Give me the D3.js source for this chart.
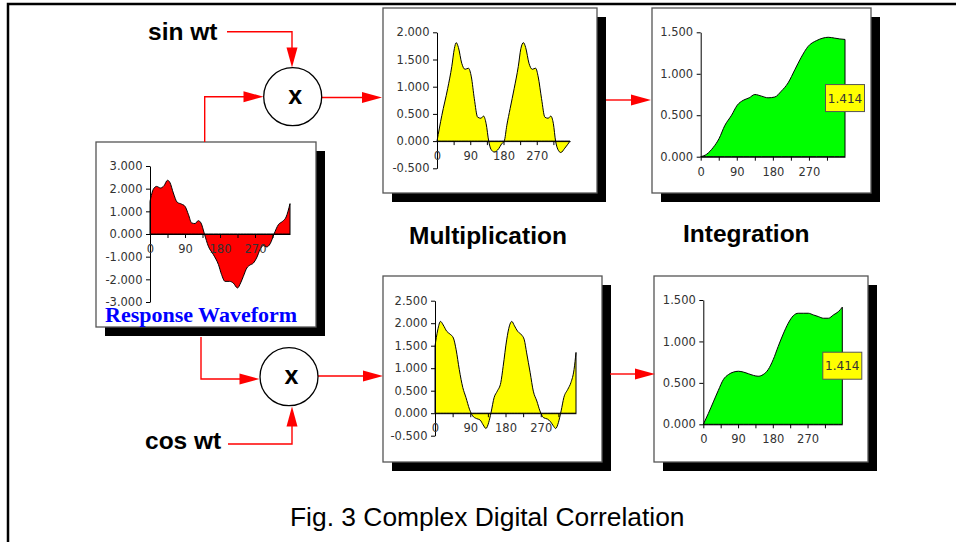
<!DOCTYPE html>
<html><head><meta charset="utf-8">
<script src="https://cdn.jsdelivr.net/npm/d3@7"></script>
<style>body{margin:0;background:#fff}svg{display:block}</style>
</head><body>
<svg id="c" width="956" height="542"></svg>
<script>
// ---- data (degrees / values) ----
const xTickValues = [0,45,90,135,180,225,270,315];
const xTickLabels = [0,90,180,270];

const respDeg = [0,9,17,27,36,45,51,60,70,81,90,99,107,116,124,131,140,150,163,176,184,193,204,214,225,233,240,249,257,266,274,283,291,300,309,319,330,341,350,360];
const respVal = [1.44,1.99,2.10,2.03,2.13,2.37,2.28,1.81,1.40,1.32,1.22,0.85,0.49,0.46,0.59,0.49,0,-0.54,-0.91,-1.35,-1.79,-2.09,-2.09,-2.16,-2.38,-2.16,-1.87,-1.50,-1.37,-1.28,-1.06,-0.69,-0.51,-0.57,-0.43,0,0.41,0.56,0.75,1.34];
const respTicks = [-3,-2,-1,0,1,2,3];

const sinDeg = [0,13,29,40,47,52,58,67,76,85,93,101,110,119,126,133,140,146,155,167,175,182,189,198,209,220,227,234,240,249,258,267,274,283,292,301,308,315,321,327,335,346,360];
const sinVal = [0,0.47,0.97,1.37,1.70,1.81,1.72,1.43,1.32,1.34,1.18,0.78,0.44,0.42,0.46,0.32,0,-0.15,-0.20,-0.14,-0.05,0,0.29,0.60,0.97,1.37,1.70,1.81,1.72,1.43,1.32,1.34,1.18,0.78,0.44,0.42,0.46,0.32,0,-0.15,-0.21,-0.13,0];
const sinTicks = [-0.5,0,0.5,1,1.5,2];

const sIntDeg = [0,15,31,46,60,77,91,106,121,135,152,168,185,201,218,235,251,268,289,305,318,334,347,360];
const sIntVal = [0,0.03,0.11,0.22,0.375,0.50,0.62,0.68,0.71,0.75,0.73,0.71,0.72,0.79,0.89,1.05,1.20,1.33,1.40,1.43,1.44,1.43,1.42,1.414];

const cosDeg = [0,7,14,21,30,38,47,54,62,71,79,88,96,106,115,123,130,137,143,151,159,168,174,183,190,196,203,211,221,228,234,243,251,260,268,277,287,295,302,308,315,322,329,339,347,355,360];
const cosVal = [1.49,1.85,2.04,1.96,1.82,1.76,1.67,1.41,0.97,0.57,0.35,0.09,-0.06,-0.12,-0.15,-0.26,-0.34,-0.21,0.01,0.35,0.49,0.68,1.04,1.63,1.94,2.04,1.94,1.82,1.74,1.63,1.34,0.90,0.49,0.27,0.05,-0.10,-0.13,-0.19,-0.28,-0.34,-0.21,0.05,0.35,0.53,0.68,0.97,1.35];
const cosTicks = [-0.5,0,0.5,1,1.5,2,2.5];

const cIntDeg = [0,13,26,39,52,65,78,91,104,117,130,142,155,168,181,194,207,220,233,246,259,272,285,298,311,324,337,350,360];
const cIntVal = [0,0.13,0.27,0.41,0.54,0.60,0.63,0.64,0.63,0.61,0.59,0.58,0.60,0.66,0.78,0.94,1.09,1.22,1.31,1.34,1.34,1.34,1.32,1.30,1.28,1.28,1.32,1.36,1.414];
const intTicks = [0,0.5,1,1.5];
const finalValue = 1.414;

// ---- drawing ----
const svg = d3.select("#c");
svg.append("rect").attr("width",956).attr("height",542).attr("fill","#fff");

// outer frame (top + left)
svg.append("path").attr("d","M8,542 V4 H956").attr("fill","none").attr("stroke","#000").attr("stroke-width",2.5);

function panel(o){
  const g = svg.append("g");
  g.append("rect").attr("x",o.box[0]+9).attr("y",o.box[1]+9).attr("width",o.box[2]-o.box[0]).attr("height",o.box[3]-o.box[1]).attr("fill","#000");
  g.append("rect").attr("x",o.box[0]).attr("y",o.box[1]).attr("width",o.box[2]-o.box[0]).attr("height",o.box[3]-o.box[1]).attr("fill","#fff").attr("stroke","#555").attr("stroke-width",1.3);
  const x = d3.scaleLinear().domain([0,360]).range(o.xr);
  const y = d3.scaleLinear().domain(o.yd).range(o.yr);
  const pts = o.deg.map((d,i)=>[d,o.val[i]]);
  const area = d3.area().x(d=>x(d[0])).y0(y(0)).y1(d=>y(d[1])).curve(d3.curveMonotoneX);
  g.append("path").attr("d",area(pts)).attr("fill",o.fill).attr("stroke","#000").attr("stroke-width",1);
  const ya = d3.axisLeft(y).tickValues(o.yt).tickSize(4).tickSizeOuter(0).tickPadding(3.5).tickFormat(v=>v.toFixed(3));
  const yg = g.append("g").attr("transform",`translate(${x(0)},0)`).call(ya);
  const xa = d3.axisBottom(x).tickValues(xTickValues).tickSize(4).tickSizeOuter(0).tickPadding(7).tickFormat(v=>xTickLabels.includes(v)?v:"");
  const xg = g.append("g").attr("transform",`translate(0,${y(0)})`).call(xa);
  [yg,xg].forEach(a=>{
    a.attr("font-family","DejaVu Sans, sans-serif").attr("font-size",11.5);
    a.selectAll("text").attr("fill","#333");
    a.selectAll("line,path").attr("stroke","#000");
  });
  if(o.label){
    const lx = x(360), ly = y(o.label/2);
    g.append("rect").attr("x",lx-19.5).attr("y",ly-13.5).attr("width",39).attr("height",27).attr("fill","#ffff00").attr("stroke","#555").attr("stroke-width",1);
    g.append("text").attr("x",lx).attr("y",ly+4.5).attr("text-anchor","middle").attr("font-family","DejaVu Sans, sans-serif").attr("font-size",12).attr("fill","#333").text(o.label.toFixed(3));
  }
  return g;
}

panel({box:[96,142,316,327], xr:[150,290], yd:[-3,3], yr:[302,166], yt:respTicks, deg:respDeg, val:respVal, fill:"#ff0000"});
svg.append("text").attr("x",105).attr("y",322).attr("font-family","Liberation Serif, Times New Roman, serif").attr("font-weight","bold").attr("font-size",22).attr("fill","#0000ff").text("Response Waveform");

panel({box:[383,8,597,193], xr:[437,570], yd:[-0.5,2], yr:[168.3,32.3], yt:sinTicks, deg:sinDeg, val:sinVal, fill:"#ffff00"});
panel({box:[652,8,871,193], xr:[700.7,845], yd:[0,1.5], yr:[156.7,32.3], yt:intTicks, deg:sIntDeg, val:sIntVal, fill:"#00ff00", label:finalValue});
panel({box:[383,276,602,462], xr:[435,576], yd:[-0.5,2.5], yr:[435.7,300.7], yt:cosTicks, deg:cosDeg, val:cosVal, fill:"#ffff00"});
panel({box:[654,276,868,462], xr:[703.3,842.3], yd:[0,1.5], yr:[424.3,300], yt:intTicks, deg:cIntDeg, val:cIntVal, fill:"#00ff00", label:finalValue});

// connectors
const red="#ff0000";
function conn(d){ svg.append("path").attr("d",d).attr("fill","none").attr("stroke",red).attr("stroke-width",1.4); }
function head(tx,ty,dir){
  const L=20,W=5.5; let p;
  if(dir==="r") p=[[tx,ty],[tx-L,ty-W],[tx-L,ty+W]];
  if(dir==="d") p=[[tx,ty],[tx-W,ty-L],[tx+W,ty-L]];
  if(dir==="u") p=[[tx,ty],[tx-W,ty+L],[tx+W,ty+L]];
  svg.append("path").attr("d","M"+p.join("L")+"Z").attr("fill",red);
}
conn("M227,31.7 H292 V50"); head(292,67.5,"d");
conn("M204.7,142 V96.7 H246"); head(263.5,96.7,"r");
conn("M321.7,97.5 H365"); head(382,97.5,"r");
conn("M606,100 H634"); head(651,100,"r");
conn("M201,337 V379 H242"); head(259.5,379,"r");
conn("M318,376 H366"); head(383,376,"r");
conn("M228,444 H292 V425"); head(292,406.5,"u");
conn("M610,374 H638"); head(655,374,"r");

// multipliers
[[292.7,96.7],[289,376.7]].forEach(c=>{
  svg.append("circle").attr("cx",c[0]).attr("cy",c[1]).attr("r",29).attr("fill","#fff").attr("stroke","#000").attr("stroke-width",1.3);
  svg.append("text").attr("x",c[0]+2.5).attr("y",c[1]+7).attr("text-anchor","middle").attr("font-family","Liberation Sans, Arial, sans-serif").attr("font-weight","bold").attr("font-size",25).text("x");
});

function label(x,y,t,size,bold){
  svg.append("text").attr("x",x).attr("y",y).attr("font-family","Liberation Sans, Arial, sans-serif").attr("font-weight",bold?"bold":"normal").attr("font-size",size).attr("fill","#000").text(t);
}
label(148,40,"sin wt",24.5,true);
label(145,449,"cos wt",24.5,true);
label(409,244,"Multiplication",24.5,true);
label(683,242,"Integration",24.5,true);
label(290,526,"Fig. 3 Complex Digital Correlation",26.4,false);
</script>
</body></html>
